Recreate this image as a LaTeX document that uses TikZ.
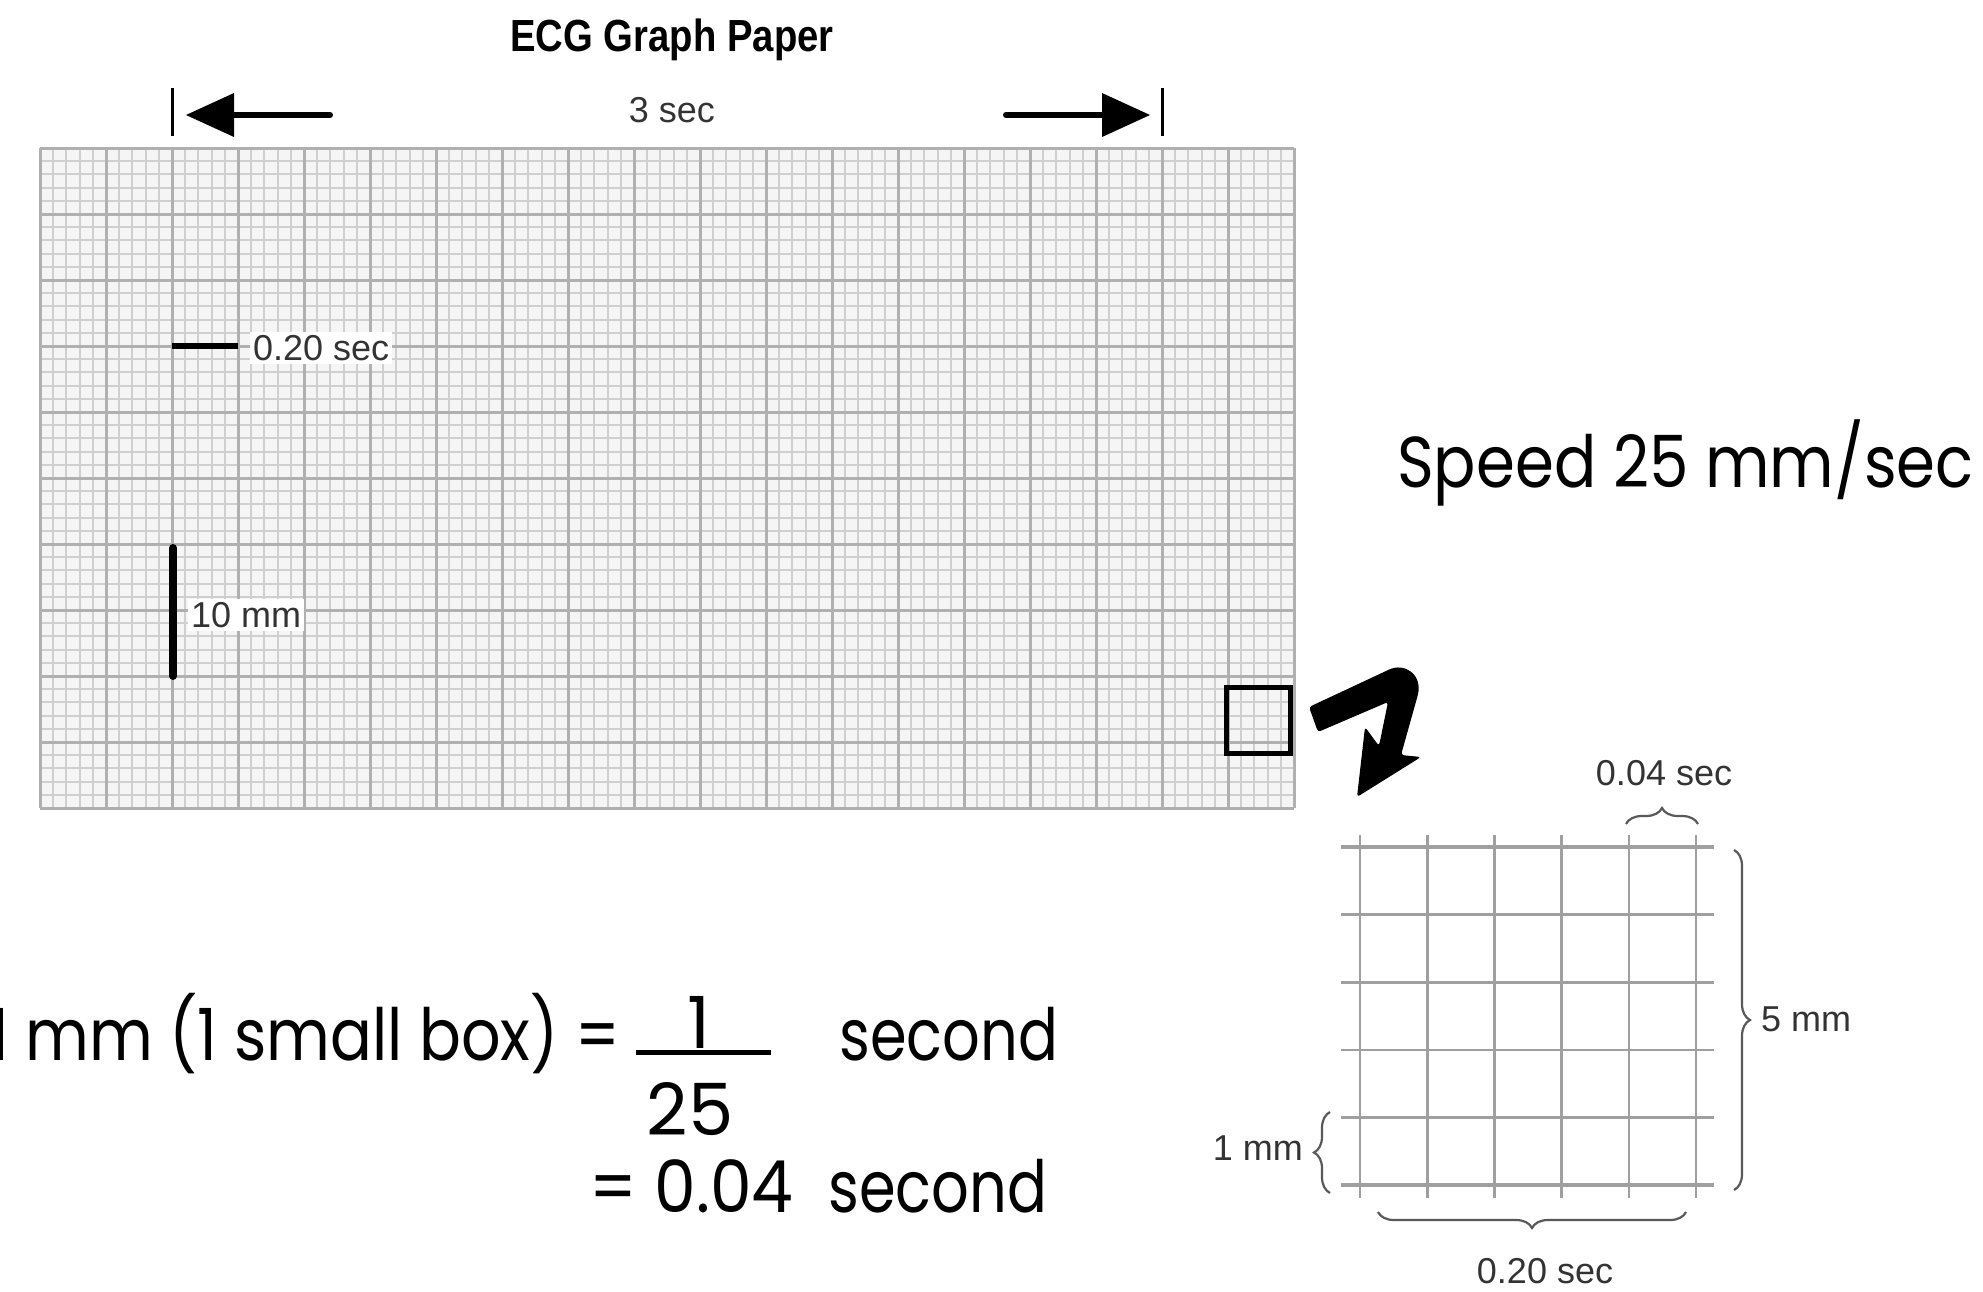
\documentclass[tikz,border=0pt]{standalone}
\usepackage{fontspec}
\setmainfont{Liberation Sans}
\newfontfamily\comic{Poppins}
\usetikzlibrary{decorations.pathreplacing}
\begin{document}
\begin{tikzpicture}[x=1pt,y=-1pt,
  minor/.style={draw=gray!38, line width=2pt},
  major/.style={draw=gray!62, line width=3pt},
  lbl/.style={text=black!80, font=\fontsize{36}{40}\selectfont, inner sep=3pt},
  hand/.style={font=\comic\fontsize{72}{80}\selectfont, inner sep=0pt},
  zgrid/.style={draw=gray!75, line width=2.6pt},
  brc/.style={draw=black!65, line width=2.2pt, decorate, decoration={brace, amplitude=16pt}},
  bar/.style={line width=#1, draw=black},
]
\useasboundingbox (0,0) rectangle (1983,1291);
% main grid
\fill[black!4] (40,148) rectangle (1294,808);
\foreach \i in {0,...,95} \draw[minor] ({40+13.2*\i},148) -- ({40+13.2*\i},808);
\foreach \j in {0,...,50} \draw[minor] (40,{148+13.2*\j}) -- (1294,{148+13.2*\j});
\foreach \i in {0,...,19} \draw[major] ({40+66*\i},148) -- ({40+66*\i},808);
\foreach \j in {0,...,10} \draw[major] (40,{148+66*\j}) -- (1294,{148+66*\j});

% title and 3 sec
\node[inner sep=0pt] (title) at (672,40) {\scalebox{0.85}[1]{\fontsize{45}{50}\selectfont\bfseries ECG Graph Paper}};
\node[lbl] (three) at (672,110) {3 sec};
% top arrows
\draw[bar=3pt] (172,88) -- (172,136);
\fill (186,115) -- (234,93) -- (234,137) -- cycle;
\draw[bar=6pt, line cap=round] (230,115) -- (330,115);
\draw[bar=3pt] (1162,88) -- (1162,136);
\fill (1150,115) -- (1102,93) -- (1102,137) -- cycle;
\draw[bar=6pt, line cap=round] (1006,115) -- (1106,115);

% 0.20 sec bar
\draw[bar=6pt] (172,346) -- (238,346);
\node[lbl, fill=white, anchor=west] (t020) at (250,348) {0.20 sec};
% 10 mm bar
\draw[bar=8pt, line cap=round] (173,548) -- (173,676);
\node[lbl, fill=white, anchor=west] (t10) at (188,615) {10 mm};

% highlight box
\draw[bar=5pt] (1226,687) rectangle (1290,753);
% curvy arrow
\fill[rounded corners=3pt] (1309,707) -- (1386,671)
  .. controls (1405,662) and (1423,675) .. (1417,698)
  -- (1401,755) -- (1421,757) -- (1357,797) -- (1365,727)
  -- (1379,746) -- (1388,702) -- (1318,732) -- cycle;

% zoomed grid
\foreach \i in {0,...,5} \draw[zgrid] ({1360+67.2*\i},835) -- ({1360+67.2*\i},1198);
\foreach \j in {1,...,4} \draw[zgrid] (1341,{847+67.6*\j}) -- (1714,{847+67.6*\j});
\draw[zgrid, line width=4pt] (1341,847) -- (1714,847);
\draw[zgrid, line width=4pt] (1341,1185) -- (1714,1185);

% braces
\draw[brc] (1626,824) -- (1698,824);
\draw[brc] (1734,850) -- (1734,1190);
\draw[brc] (1686,1212) -- (1378,1212);
\draw[brc] (1330,1193) -- (1330,1112);
\node[lbl] (t004) at (1664,773) {0.04 sec};
\node[lbl, anchor=west] (t5) at (1758,1019) {5 mm};
\node[lbl, anchor=east] (t1) at (1306,1148) {1 mm};
\node[lbl] (t020b) at (1545,1271) {0.20 sec};

% handwriting text
\node[hand, anchor=base west] (speed) at (1397,487) {\scalebox{0.87}[1]{Speed 25 mm/sec}};
\node[hand, anchor=base east] (eq1) at (620,1060) {\scalebox{0.86}[1]{1 mm (1 small box) =}};
\node[hand, anchor=base] (num) at (699,1048) {1};
\draw[bar=5pt] (636,1052) -- (771,1052);
\node[hand, anchor=base] (den) at (690,1135) {25};
\node[hand, anchor=base west] (sec1) at (839,1060) {\scalebox{0.82}[1]{second}};
\node[hand, anchor=base west] (eq2) at (589,1212) {\scalebox{0.92}[1]{= 0.04}};
\node[hand, anchor=base west] (sec2) at (828,1212) {\scalebox{0.82}[1]{second}};
\end{tikzpicture}
\end{document}
